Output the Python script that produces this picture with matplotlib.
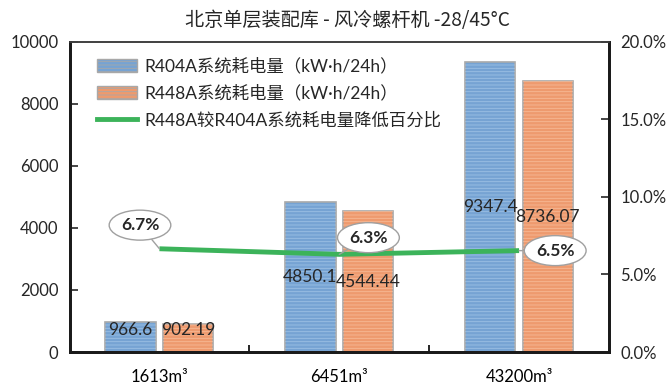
import matplotlib
matplotlib.use("Agg")
import matplotlib.pyplot as plt
from matplotlib.ticker import FuncFormatter
from matplotlib.patches import Patch
from matplotlib.lines import Line2D

plt.rcParams["font.family"] = ["Lato", "Noto Sans CJK SC", "DejaVu Sans"]
plt.rcParams["hatch.linewidth"] = 0.6

# data
categories = ["1613m³", "6451m³", "43200m³"]
r404a_kwh = [966.6, 4850.1, 9347.4]
r448a_kwh = [902.19, 4544.44, 8736.07]
reduction_pct = [6.66, 6.30, 6.54]
pct_labels = ["6.7%", "6.3%", "6.5%"]

title = "北京单层装配库 - 风冷螺杆机 -28/45°C"
label_404 = "R404A系统耗电量（kW·h/24h）"
label_448 = "R448A系统耗电量（kW·h/24h）"
label_line = "R448A较R404A系统耗电量降低百分比"

blue = "#76a3d3"
blue_hatch = "#9cc0e4"
orange = "#ee9a6e"
orange_hatch = "#f6b995"
green = "#3cb35a"

fig = plt.figure(figsize=(6.71, 3.85), dpi=100)
ax = fig.add_axes([0.1036, 0.0857, 0.804, 0.8053])
ax2 = ax.twinx()

x = list(range(len(categories)))
w = 0.28
off = 0.16
xb = [i - off for i in x]
xo = [i + off for i in x]

ax.bar(xb, r404a_kwh, w, color=blue, edgecolor="#a8a8a8", linewidth=1.2, zorder=2)
ax.bar(xb, r404a_kwh, w, color="none", edgecolor=blue_hatch, hatch="-----", linewidth=0, zorder=2)
ax.bar(xo, r448a_kwh, w, color=orange, edgecolor="#a8a8a8", linewidth=1.2, zorder=2)
ax.bar(xo, r448a_kwh, w, color="none", edgecolor=orange_hatch, hatch="-----", linewidth=0, zorder=2)

# value labels at bar middle
for xi, v in zip(xb, r404a_kwh):
    ax.text(xi, max(v / 2, 700), f"{v:g}", ha="center", va="center", fontsize=12.5, color="#262626", zorder=3)
for xi, v in zip(xo, r448a_kwh):
    ax.text(xi, max(v / 2, 700), f"{v:g}", ha="center", va="center", fontsize=12.5, color="#262626", zorder=3)

ax.set_xlim(-0.5, 2.5)
ax.set_ylim(0, 10000)
ax.set_yticks(range(0, 10001, 2000))
ax.set_xticks([0.5, 1.5])
ax.set_xticklabels([])
ax.set_xticks(x, minor=True)
ax.set_xticklabels(categories, minor=True)
ax.tick_params(axis="x", which="major", direction="in", length=5, width=1.2)
ax.tick_params(axis="x", which="minor", length=0, pad=12, labelsize=12)
ax.tick_params(axis="y", direction="in", length=6, width=1.2, labelsize=12, colors="#262626", pad=8)

ax2.plot(x, [p / 100 for p in reduction_pct], color=green, linewidth=3.5, solid_capstyle="butt", zorder=4)
ax2.set_ylim(0, 0.20)
ax2.set_yticks([0, 0.05, 0.10, 0.15, 0.20])
ax2.yaxis.set_major_formatter(FuncFormatter(lambda v, p: f"{v * 100:.1f}%"))
ax2.tick_params(axis="y", direction="in", length=6, width=1.2, labelsize=12, colors="#262626", pad=8)

offsets = [(-14, 17), (21, 12), (26, 0)]
for xi, p, lab, o in zip(x, reduction_pct, pct_labels, offsets):
    ax2.annotate(lab, (xi, p / 100), xytext=o, textcoords="offset points",
                 ha="center", va="center", fontsize=12.5, fontweight="bold", color="#262626",
                 bbox=dict(boxstyle="ellipse,pad=0.15", fc="white", ec="#a0a0a0", lw=1),
                 arrowprops=dict(arrowstyle="-", color="#a0a0a0", lw=1, shrinkA=0, shrinkB=0),
                 zorder=5)

for a in (ax, ax2):
    for s in ("left", "right", "bottom"):
        a.spines[s].set_linewidth(2)
        a.spines[s].set_color("#1a1a1a")
    a.spines["top"].set_linewidth(1.2)
    a.spines["top"].set_color("#404040")

handles = [
    Patch(facecolor=blue, edgecolor="#a8a8a8", hatch="-----"),
    Patch(facecolor=orange, edgecolor="#a8a8a8", hatch="-----"),
    Line2D([0], [0], color=green, linewidth=3.5),
]
leg = ax2.legend(handles, [label_404, label_448, label_line], loc="upper left",
                 bbox_to_anchor=(0.022, 1.0), frameon=False,
                 handlelength=2.3, handleheight=0.75, labelspacing=0.6, handletextpad=0.4,
                 prop={"family": ["Lato", "Noto Sans CJK SC"], "size": 12.5})
for t in leg.get_texts():
    t.set_color("#262626")

fig.suptitle(title, x=0.518, y=0.975, fontsize=13.8, family=["Noto Sans CJK SC", "DejaVu Sans"], color="#262626")

fig.savefig("out.png", dpi=100, facecolor="white")
